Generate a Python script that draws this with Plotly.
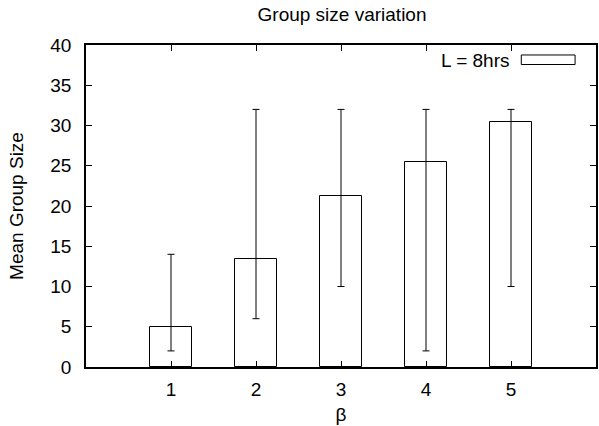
import plotly.graph_objects as go

# Data
beta = [1, 2, 3, 4, 5]
mean_size = [5.0, 13.4, 21.2, 25.5, 30.4]
min_size = [2, 6, 10, 2, 10]
max_size = [14, 32, 32, 32, 32]
x_ticks = [1, 2, 3, 4, 5]
y_ticks = [0, 5, 10, 15, 20, 25, 30, 35, 40]
series_name = "L = 8hrs"

err_plus = [mx - m for mx, m in zip(max_size, mean_size)]
err_minus = [m - mn for mn, m in zip(min_size, mean_size)]

FONT = "Liberation Sans"
FS = 19

fig = go.Figure()
fig.add_trace(go.Bar(
    x=beta, y=mean_size, width=0.5, name=series_name,
    marker=dict(color="white", line=dict(color="black", width=1)),
    error_y=dict(type="data", symmetric=False, array=err_plus, arrayminus=err_minus,
                 color="black", thickness=1, width=3.5),
    showlegend=False,
))

# gnuplot-style key: text with a sample box to its right
fig.add_annotation(xref="paper", yref="paper", x=0.834, y=0.952, text=series_name,
                   showarrow=False, xanchor="right", yanchor="middle",
                   font=dict(family=FONT, size=FS, color="black"))
fig.add_shape(type="rect", xref="paper", yref="paper", x0=0.8535, x1=0.959, y0=0.9394, y1=0.969,
              line=dict(color="black", width=1), fillcolor="white")

fig.update_layout(
    width=599, height=426,
    margin=dict(l=86, r=1, t=45, b=59),
    paper_bgcolor="white", plot_bgcolor="white",
    font=dict(family=FONT, size=FS, color="black"),
    title=dict(text="Group size variation", x=0.571, xanchor="center", y=0.967, yanchor="middle",
               font=dict(family=FONT, size=FS, color="black")),
    bargap=0,
)
fig.update_xaxes(
    range=[0, 6], tickvals=x_ticks, ticktext=[str(v) for v in x_ticks],
    ticks="inside", ticklen=6, tickcolor="black", tickwidth=1,
    showline=True, linecolor="black", linewidth=1.5, mirror="allticks",
    showgrid=False, zeroline=False, ticklabelstandoff=4,
    title=dict(text="β", standoff=9, font=dict(family=FONT, size=FS)),
)
fig.update_yaxes(
    range=[0, 40], tickvals=y_ticks, ticktext=[str(v) for v in y_ticks],
    ticks="inside", ticklen=6, tickcolor="black", tickwidth=1,
    showline=True, linecolor="black", linewidth=1.5, mirror="allticks",
    showgrid=False, zeroline=False, ticklabelstandoff=9,
    title=dict(text="Mean Group Size", standoff=22, font=dict(family=FONT, size=FS)),
)

fig.write_html("out.html")
